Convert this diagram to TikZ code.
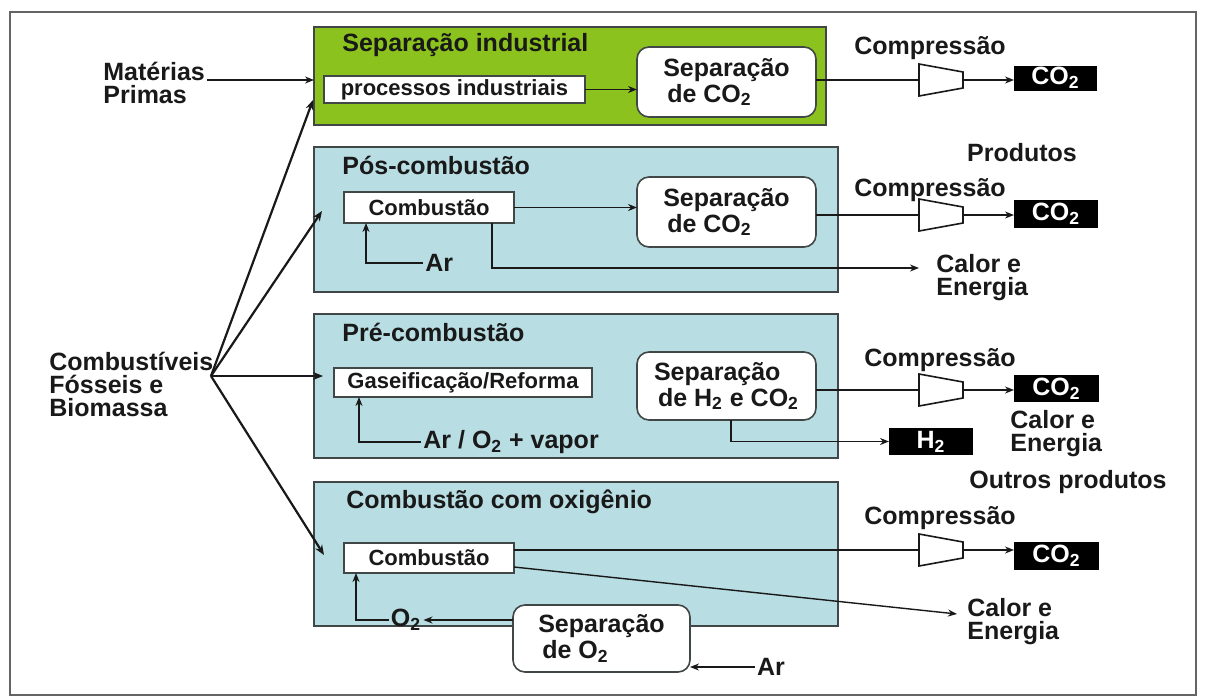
\documentclass[tikz,border=0pt]{standalone}
\usepackage{fontspec}
\setmainfont{Liberation Sans}
\usetikzlibrary{arrows.meta,calc}
\definecolor{pgreen}{RGB}{140,194,30}
\definecolor{pblue}{RGB}{184,221,227}
\definecolor{pedge}{RGB}{65,70,70}
\definecolor{ink}{RGB}{25,25,25}
\definecolor{framec}{RGB}{100,100,100}
\newcommand{\compdraw}[1]{\draw[draw=ink, line width=0.8pt, fill=white] (#1.north west) -- ([yshift=-4pt]#1.north east) -- ([yshift=4pt]#1.south east) -- (#1.south west) -- cycle;}
\begin{document}
\begin{tikzpicture}[x=0.5pt,y=-0.5pt,
  big/.style={font=\bfseries\fontsize{12.5}{13}\selectfont, text=ink, inner sep=1pt},
  small/.style={font=\bfseries\fontsize{11}{12}\selectfont, text=ink, inner sep=0pt},
  panel/.style={draw=pedge, line width=1pt, inner sep=0pt, outer sep=0pt, anchor=north west},
  wbox/.style={draw=pedge, fill=white, line width=0.8pt, inner sep=0pt, outer sep=0pt},
  rbox/.style={wbox, rounded corners=6pt, align=left, font=\bfseries\fontsize{12.5}{13}\selectfont, text=ink},
  bbox/.style={fill=black, text=white, inner sep=0pt, outer sep=0pt, font=\bfseries\fontsize{12.5}{13}\selectfont},
  comp/.style={inner sep=0pt, outer sep=0pt, minimum width=22pt, minimum height=16pt},
  conn/.style={draw=ink, line width=0.7pt, -{Stealth[length=4.5pt,width=3.5pt]}},
  plain/.style={draw=ink, line width=0.7pt},
  hubc/.style={draw=ink, line width=1.1pt, -{Stealth[length=5pt,width=4pt]}},
  twoline/.style={big, align=left, anchor=west, font=\bfseries\fontsize{12.5}{11.5}\selectfont}
]
\useasboundingbox (0,0) rectangle (1206,697);
\fill[white] (0,0) rectangle (1206,697);
\draw[framec, line width=1.1pt] (10,12) rectangle (1196,695);

% ---------- panels ----------
\node[panel, fill=pgreen, minimum width=256pt, minimum height=49pt] (G) at (314,27) {};
\node[panel, fill=pblue, minimum width=262pt, minimum height=72.5pt] (P2) at (314,147) {};
\node[panel, fill=pblue, minimum width=262pt, minimum height=72pt] (P3) at (314,314) {};
\node[panel, fill=pblue, minimum width=262pt, minimum height=72pt] (P4) at (314,482) {};

\node[big, anchor=west] (t1) at (340,45) {Separação industrial};
\node[big, anchor=west] (t2) at (340,165) {Pós-combustão};
\node[big, anchor=west] (t3) at (340,332) {Pré-combustão};
\node[big, anchor=west] (t4) at (344,502) {Combustão com oxigênio};

% ---------- left inputs ----------
\node[big, anchor=base west] (mat) at (101,80) {Matérias};
\node[big, anchor=base west] (pri) at (101,103) {Primas};
\node[twoline] (fuel) at (47,384) {Combustíveis\\Fósseis e\\Biomassa};
\coordinate (hub) at (211,376);
\coordinate (tip1) at (313,100);
\coordinate (tip2) at (322,211);
\coordinate (tip3) at (323,376);
\coordinate (tip4) at (324,555);
\draw[conn] (mat.base east) -- (mat.base east -| G.west);
\draw[hubc] (hub) -- (tip1);
\draw[hubc] (hub) -- (tip2);
\draw[hubc] (hub) -- (tip3);
\draw[hubc] (hub) -- (tip4);

% ---------- row 1 ----------
\node[wbox, small, minimum width=130.5pt, minimum height=13.5pt] (pi) at (454.5,89.5) {processos industriais};
\node[rbox, minimum width=89.5pt, minimum height=35pt] (S1) at (726.5,82) {Separação\\\hspace*{2pt}de CO\textsubscript{2}};
\node[comp] (C1) at (941,80) {};
\compdraw{C1}
\node[bbox, minimum width=41.5pt, minimum height=12.5pt] (B1) at (1055.5,78) {CO\textsubscript{2}};
\node[big] (k1) at (930,48) {Compressão};
\draw[conn] (pi.east) -- (pi.east -| S1.west);
\draw[plain] (S1.east |- C1.west) -- (C1.west);
\draw[conn] (C1.east) -- (C1.east -| B1.west);

% ---------- row 2 ----------
\node[wbox, small, minimum width=85pt, minimum height=15.5pt] (c2) at (429,207.5) {Combustão};
\node[rbox, minimum width=89.5pt, minimum height=35pt] (S2) at (726.5,212) {Separação\\\hspace*{2pt}de CO\textsubscript{2}};
\node[comp] (C2) at (941,215) {};
\compdraw{C2}
\node[bbox, minimum width=42pt, minimum height=14pt] (B2) at (1056,214) {CO\textsubscript{2}};
\node[big] (k2) at (930,190) {Compressão};
\node[big] (prod) at (1022,153) {Produtos};
\node[big, anchor=west] (ar2) at (423,263) {Ar};
\node[twoline] (cal2) at (934,278) {Calor e\\Energia};
\coordinate (e2) at (919,268);
\draw[conn] (c2.east) -- (c2.east -| S2.west);
\draw[plain] (S2.east |- C2.west) -- (C2.west);
\draw[conn] (C2.east) -- (C2.east -| B2.west);
\draw[conn] (ar2.west) -| ($(c2.south west)+(22,0)$);
\draw[conn] ($(c2.south west)+(148,0)$) |- (e2);

% ---------- row 3 ----------
\node[wbox, small, minimum width=129pt, minimum height=14.5pt] (g3) at (463,382.5) {Gaseificação/Reforma};
\node[rbox, minimum width=89.5pt, minimum height=34pt] (S3) at (726.5,386) {Separação\\\hspace*{2pt}de H\textsubscript{2} e CO\textsubscript{2}};
\node[comp] (C3) at (941,390) {};
\compdraw{C3}
\node[bbox, minimum width=42.5pt, minimum height=13.5pt] (B3) at (1056.5,388.5) {CO\textsubscript{2}};
\node[big] (k3) at (940,360) {Compressão};
\node[bbox, minimum width=42pt, minimum height=13.5pt] (h3) at (931,441.5) {H\textsubscript{2}};
\node[big, anchor=west] (ao3) at (421,442) {Ar / O\textsubscript{2} + vapor};
\node[twoline] (cal3) at (1008,434) {Calor e\\Energia};
\node[big] (outros) at (1068,482) {Outros produtos};
\draw[plain] (S3.east |- C3.west) -- (C3.west);
\draw[conn] (C3.east) -- (C3.east -| B3.west);
\draw[conn] ($(S3.south west)+(94,0)$) |- (h3.west);
\draw[conn] (ao3.west) -| ($(g3.south west)+(25,0)$);

% ---------- row 4 ----------
\node[wbox, small, minimum width=85pt, minimum height=15pt] (c4) at (429,558) {Combustão};
\node[comp] (C4) at (941,550) {};
\compdraw{C4}
\node[bbox, minimum width=42.5pt, minimum height=14pt] (B4) at (1056.5,556) {CO\textsubscript{2}};
\node[big] (k4) at (940,518) {Compressão};
\node[twoline] (cal4) at (965,622) {Calor e\\Energia};
\coordinate (e4) at (957,614);
\node[rbox, minimum width=88.5pt, minimum height=33.5pt] (S4) at (601.5,638.5) {Separação\\\hspace*{2pt}de O\textsubscript{2}};
\node[big] (o2) at (406,620) {O\textsubscript{2}};
\node[big] (ar4) at (771,667) {Ar};
\draw[plain] (c4.east |- C4.west) -- (C4.west);
\draw[conn] (C4.east) -- (C4.east -| B4.west);
\draw[conn] ($(c4.south east)+(0,-6)$) -- (e4);
\draw[conn] (S4.west |- o2.east) -- (o2.east);
\draw[conn] (o2.west) -| ($(c4.south west)+(12,0)$);
\draw[conn] (ar4.west) -- (ar4.west -| S4.east);
\end{tikzpicture}
\end{document}
